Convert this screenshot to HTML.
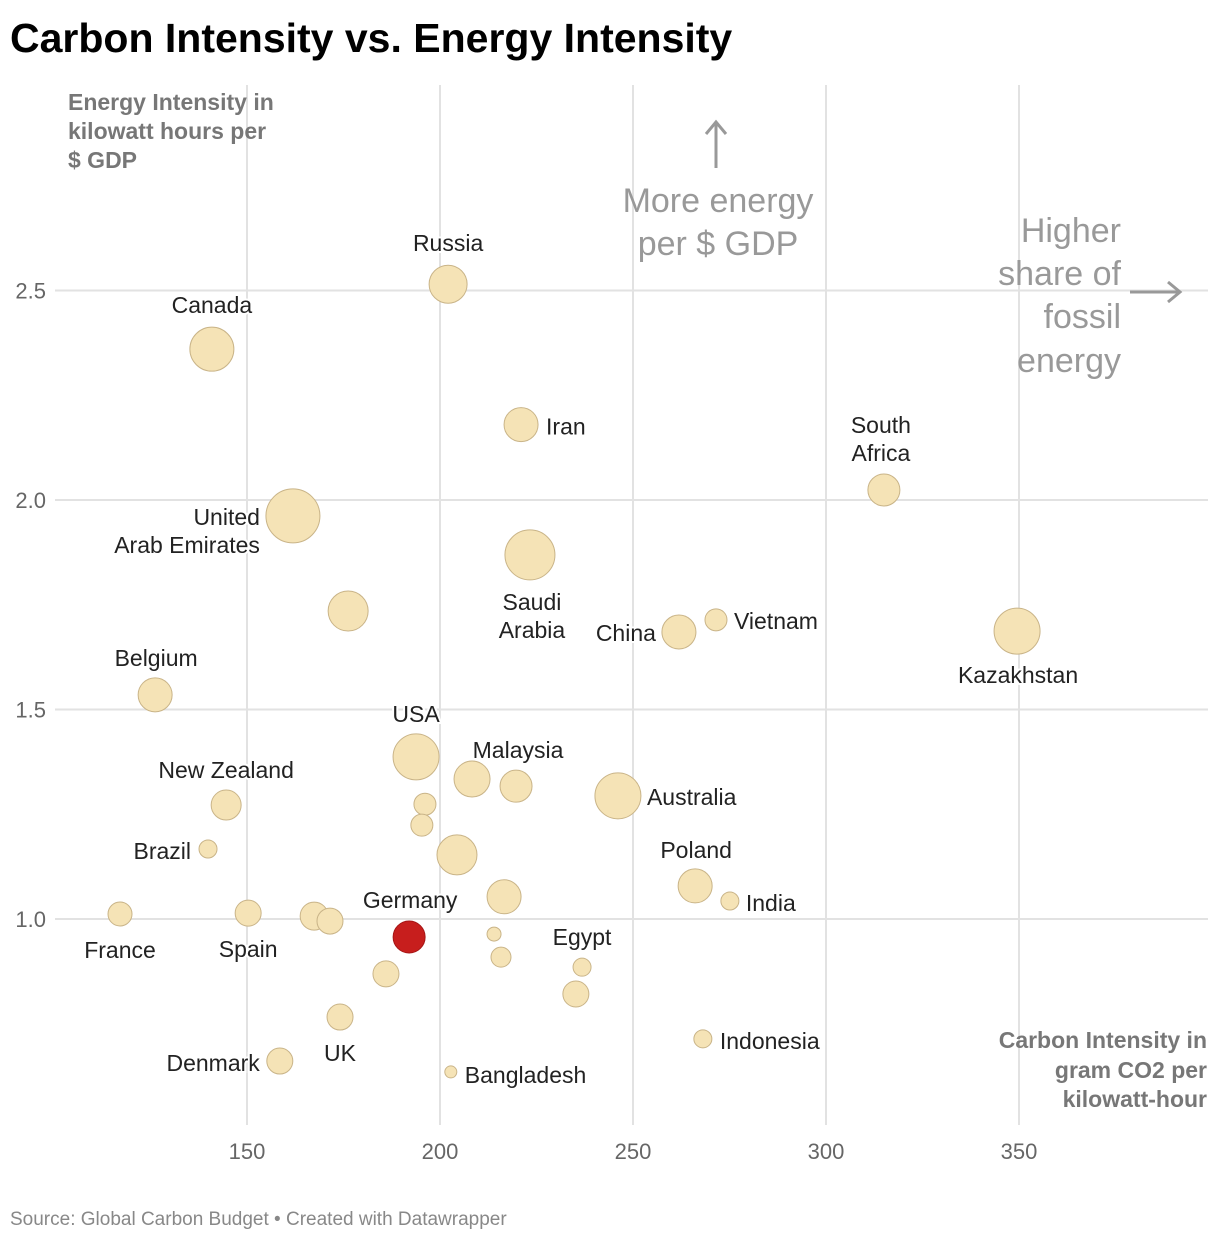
<!DOCTYPE html>
<html><head><meta charset="utf-8"><style>
body{margin:0;background:#fff;font-family:"Liberation Sans",sans-serif}
svg text{font-family:"Liberation Sans",sans-serif}
</style></head><body>
<svg id="chart" width="1220" height="1242" xmlns="http://www.w3.org/2000/svg">
<text x="10" y="52" font-size="41" font-weight="bold" fill="#000">Carbon Intensity vs. Energy Intensity</text>
<g id="grid"></g>
<g id="ticks"></g>
<g font-size="23" font-weight="bold" fill="#777">
<text x="68" y="110">Energy Intensity in</text><text x="68" y="139">kilowatt hours per</text><text x="68" y="168">$ GDP</text></g>
<g font-size="23" font-weight="bold" fill="#777" text-anchor="end">
<text x="1207" y="1048">Carbon Intensity in</text><text x="1207" y="1078">gram CO2 per</text><text x="1207" y="1107">kilowatt-hour</text></g>
<g font-size="34" fill="#999" text-anchor="middle">
<text x="718" y="212">More energy</text><text x="718" y="255">per $ GDP</text></g>
<g stroke="#999" stroke-width="3" fill="none"><path d="M716 168 V122 M706 134 L716 122 L726 134"/></g>
<g font-size="34" fill="#999" text-anchor="end">
<text x="1121" y="242">Higher</text><text x="1121" y="285">share of</text><text x="1121" y="328">fossil</text><text x="1121" y="372">energy</text></g>
<g stroke="#999" stroke-width="3" fill="none"><path d="M1130 292 H1180 M1168 282 L1180 292 L1168 302"/></g>
<g id="bubbles"></g>
<g id="labels" font-size="23" fill="#222"></g>
<text x="10" y="1225" font-size="19" fill="#888">Source: Global Carbon Budget • Created with Datawrapper</text>
</svg>
<script>
const carbon=[202.1,140.9,221.0,315.0,161.9,223.3,176.2,261.9,271.5,349.5,126.2,193.8,208.3,219.7,246.1,144.6,196.1,195.3,204.4,139.9,266.1,275.1,216.6,117.1,150.3,167.4,171.5,192.0,214.0,215.8,236.8,186.0,235.2,174.1,268.1,158.5,202.8];
const energy=[2.515,2.36,2.18,2.024,1.962,1.869,1.735,1.685,1.714,1.687,1.535,1.387,1.334,1.317,1.294,1.272,1.274,1.224,1.153,1.167,1.079,1.043,1.053,1.012,1.014,1.007,0.995,0.957,0.964,0.909,0.885,0.869,0.821,0.766,0.714,0.661,0.635];
const sizes=[361,484,289,256,729,625,400,289,121,529,289,529,324,256,529,225,121,121,400,81,289,81,289,144,169,196,169,256,49,100,81,169,169,169,81,169,36];
const highlight=[27];
const xTicks=[150,200,250,300,350];
const yTicks=[1.0,1.5,2.0,2.5];
const yTickLabels=["1.0","1.5","2.0","2.5"];
const labelIdx=[0,1,2,3,4,5,7,8,9,10,11,12,14,15,19,20,21,23,24,27,30,33,35,34,36];
const labelText=["Russia","Canada","Iran","South|Africa","United|Arab Emirates","Saudi|Arabia","China","Vietnam","Kazakhstan","Belgium","USA","Malaysia","Australia","New Zealand","Brazil","Poland","India","France","Spain","Germany","Egypt","UK","Denmark","Indonesia","Bangladesh"];
const labelPos=[[0,-41,"middle"],[0,-44,"middle"],[25,2,"start"],[-3,-51,"middle"],[-33,15,"end"],[2,61,"middle"],[-23,1,"end"],[18,1,"start"],[1,44,"middle"],[1,-37,"middle"],[0,-43,"middle"],[46,-29,"middle"],[29,1,"start"],[0,-35,"middle"],[-17,2,"end"],[1,-36,"middle"],[16,2,"start"],[0,36,"middle"],[0,36,"middle"],[1,-37,"middle"],[0,-30,"middle"],[0,36,"middle"],[-20,2,"end"],[17,2,"start"],[14,3,"start"]];
const X=v=>247+(v-150)*3.86, Y=v=>919-(v-1)*419;
const NS="http://www.w3.org/2000/svg";
const mk=(t,a,p)=>{const e=document.createElementNS(NS,t);for(const k in a)e.setAttribute(k,a[k]);p.appendChild(e);return e;};
const grid=document.getElementById('grid'),ticks=document.getElementById('ticks');
xTicks.forEach(v=>{const l=mk('line',{x1:X(v),x2:X(v),y1:85,y2:1125,stroke:'#e2e2e2','stroke-width':2},grid);

const t=mk('text',{x:X(v),y:1159,'text-anchor':'middle','font-size':22,fill:'#666'},ticks);t.textContent=v;
});
yTicks.forEach((v,i)=>{const l=mk('line',{x1:55,x2:1208,y1:Y(v),y2:Y(v),stroke:'#e2e2e2','stroke-width':2},grid);

const t=mk('text',{x:46,y:Y(v)+8,'text-anchor':'end','font-size':22,fill:'#666'},ticks);t.textContent=yTickLabels[i];
});
const bub=document.getElementById('bubbles');
carbon.forEach((c,i)=>{const hi=highlight.includes(i);
const e=mk('circle',{cx:X(c),cy:Y(energy[i]),r:Math.sqrt(sizes[i]),fill:hi?'#c71e1d':'#f5e3b6',stroke:hi?'#a51515':'#c9b488','stroke-width':1},bub);
});
const lab=document.getElementById('labels');
labelIdx.forEach((i,k)=>{const [dx,dy,anc]=labelPos[k];const lines=labelText[k].split('|');
const t=mk('text',{x:X(carbon[i])+dx,y:Y(energy[i])+dy+8-(lines.length-1)*14,'text-anchor':anc,stroke:'#fff','stroke-width':4,'paint-order':'stroke'},lab);

lines.forEach((s,j)=>{const sp=mk('tspan',{x:X(carbon[i])+dx,dy:j?28:0},t);sp.textContent=s;});});
</script>
</body></html>
